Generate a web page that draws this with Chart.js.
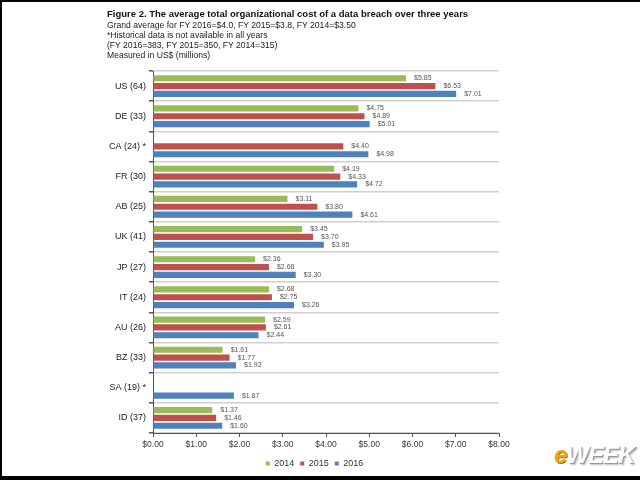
<!DOCTYPE html>
<html>
<head>
<meta charset="utf-8">
<script src="https://cdn.jsdelivr.net/npm/chart.js@4.4.1/dist/chart.umd.min.js"></script>
<style>
  body { margin: 0; width: 640px; height: 480px; overflow: hidden; background: #fff; font-family: "Liberation Sans", Arial, sans-serif; }
  #frame { position: absolute; left: 0; top: 0; width: 640px; height: 480px; box-sizing: border-box;
           border-top: 2px solid #000; border-left: 2px solid #000; border-bottom: 4px solid #000; pointer-events: none; }
  #chart { position: absolute; left: 0; top: 0; }
  .hd { position: absolute; left: 107px; color: #222; white-space: nowrap; }
  .hd.main { font-weight: bold; font-size: 9.5px; color: #111; }
  .hd.sub { font-size: 8.6px; }
  #logo { position: absolute; left: 554px; top: 441px; font-size: 24px; font-weight: bold; font-style: italic;
          letter-spacing: -1px; color: #fff; text-shadow: 1px 1px 0 #999, 2px 2px 2px #bbb; }
  #logo span { color: #f0a818; text-shadow: 1px 1px 0 #b07000; }
</style>
</head>
<body>
<canvas id="chart" width="640" height="480"></canvas>
<div class="hd main" style="top:8px">Figure 2. The average total organizational cost of a data breach over three years</div>
<div class="hd sub" style="top:20px">Grand average for FY 2016=$4.0, FY 2015=$3.8, FY 2014=$3.50</div>
<div class="hd sub" style="top:30px">*Historical data is not available in all years</div>
<div class="hd sub" style="top:40px">(FY 2016=383, FY 2015=350, FY 2014=315)</div>
<div class="hd sub" style="top:50px">Measured in US$ (millions)</div>
<div id="logo"><span>e</span>WEEK</div>
<div id="frame"></div>
<script>
// 國家 (樣本數)
const countries = ["US (64)", "DE (33)", "CA (24) *", "FR (30)", "AB (25)", "UK (41)",
                   "JP (27)", "IT (24)", "AU (26)", "BZ (33)", "SA (19) *", "ID (37)"];

// 各年度平均成本 (百萬美元), null = 無歷史資料
const cost2014 = [5.85, 4.75, null, 4.19, 3.11, 3.45, 2.36, 2.68, 2.59, 1.61, null, 1.37];
const cost2015 = [6.53, 4.89, 4.40, 4.33, 3.80, 3.70, 2.68, 2.75, 2.61, 1.77, null, 1.46];
const cost2016 = [7.01, 5.01, 4.98, 4.72, 4.61, 3.95, 3.30, 3.26, 2.44, 1.92, 1.87, 1.60];

const xTicks = [0, 1, 2, 3, 4, 5, 6, 7, 8];

// 長條右側的數值標籤
const valueLabels = {
  id: "valueLabels",
  afterDatasetsDraw(chart) {
    const ctx = chart.ctx;
    ctx.save();
    ctx.font = "7px 'Liberation Sans', Arial, sans-serif";
    ctx.fillStyle = "#555";
    ctx.textBaseline = "middle";
    chart.data.datasets.forEach((ds, i) => {
      chart.getDatasetMeta(i).data.forEach((bar, j) => {
        const v = ds.data[j];
        if (v === null) return;
        ctx.fillText("$" + v.toFixed(2), bar.x + 8, bar.y);
      });
    });
    ctx.restore();
  }
};

// 圖例往右移到圖表中間
const legendShift = {
  id: "legendShift",
  afterLayout(chart) {
    chart.legend.left += 65;
    chart.legend.right += 65;
  }
};

new Chart(document.getElementById("chart"), {
  type: "bar",
  data: {
    labels: countries,
    datasets: [
      { label: "2014", data: cost2014, backgroundColor: "#9bbb59" },
      { label: "2015", data: cost2015, backgroundColor: "#c0504d" },
      { label: "2016", data: cost2016, backgroundColor: "#4f81bd" },
    ],
  },
  options: {
    indexAxis: "y",
    responsive: false,
    animation: false,
    categoryPercentage: 0.78,
    barPercentage: 0.78,
    layout: { padding: { top: 71, right: 141, bottom: 2, left: 0 } },
    scales: {
      x: {
        min: 0,
        max: 8,
        afterBuildTicks(scale) { scale.ticks = xTicks.map(v => ({ value: v })); },
        afterFit(scale) { scale.height = 20; },
        grid: { drawOnChartArea: false, tickLength: 4, color: "#555" },
        border: { color: "#555" },
        ticks: {
          color: "#333",
          font: { size: 8.5, family: "'Liberation Sans', Arial, sans-serif" },
          padding: 3,
          callback: v => "$" + v.toFixed(2),
        },
      },
      y: {
        afterFit(scale) { scale.width = 153; },
        grid: { offset: true, color: "#cfcfcf", lineWidth: 1.5, tickLength: 4, tickColor: "#555" },
        border: { color: "#555" },
        ticks: {
          color: "#222",
          font: { size: 9, family: "'Liberation Sans', Arial, sans-serif" },
          padding: 3,
        },
      },
    },
    plugins: {
      legend: {
        position: "bottom",
        labels: {
          usePointStyle: true,
          pointStyle: "rect",
          boxWidth: 4,
          boxHeight: 4,
          padding: 6,
          color: "#333",
          font: { size: 9, family: "'Liberation Sans', Arial, sans-serif" },
        },
      },
      tooltip: { enabled: false },
    },
  },
  plugins: [valueLabels, legendShift],
});
</script>
</body>
</html>
